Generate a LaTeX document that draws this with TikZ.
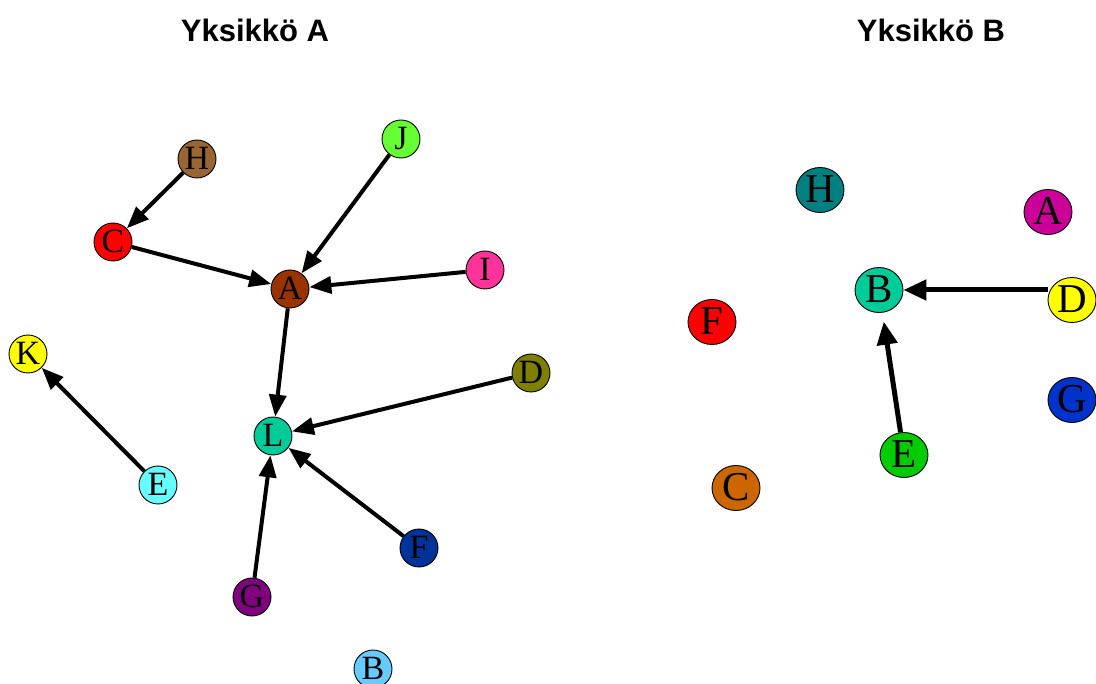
\documentclass[tikz,border=0pt]{standalone}
\usepackage{fontspec}
\setmainfont{Liberation Serif}
\newfontfamily\titlefont{Liberation Sans}
\usetikzlibrary{arrows.meta,shapes.geometric}

% vertex colours
\definecolor{aH}{HTML}{996633}
\definecolor{aC}{HTML}{FF0000}
\definecolor{aA}{HTML}{993300}
\definecolor{aJ}{HTML}{66FF33}
\definecolor{aI}{HTML}{FF3399}
\definecolor{aK}{HTML}{FFFF00}
\definecolor{aD}{HTML}{808000}
\definecolor{aL}{HTML}{00CC99}
\definecolor{aE}{HTML}{66FFFF}
\definecolor{aF}{HTML}{003399}
\definecolor{aG}{HTML}{800080}
\definecolor{aB}{HTML}{66CCFF}
\definecolor{bH}{HTML}{008080}
\definecolor{bA}{HTML}{CC0099}
\definecolor{bB}{HTML}{00CC99}
\definecolor{bD}{HTML}{FFFF00}
\definecolor{bF}{HTML}{FF0000}
\definecolor{bG}{HTML}{0033CC}
\definecolor{bE}{HTML}{00CC00}
\definecolor{bC}{HTML}{CC6600}

\tikzset{
  vtx/.style={circle, draw=black, line width=0.9pt, fill=#1, inner sep=0pt,
    minimum size=38pt, font=\fontsize{34}{34}\selectfont,
    text height=21.5pt, text depth=0pt},
  bvtx/.style={ellipse, draw=black, line width=0.9pt, fill=#1, inner sep=0pt,
    minimum width=48pt, minimum height=45pt, font=\fontsize{41}{41}\selectfont,
    text height=26pt, text depth=0pt},
  link/.style={line width=4pt, -{Triangle[length=22pt,width=17pt]}},
  blink/.style={line width=5pt, -{Triangle[length=23pt,width=20pt]}},
  heading/.style={font=\titlefont\bfseries\fontsize{31}{31}\selectfont}
}

\begin{document}
\begin{tikzpicture}[x=1pt,y=-1pt]
\useasboundingbox (0,0) rectangle (1096,684);

% titles
\node[heading] (tA) at (255,30) {Yksikkö A};
\node[heading] (tB) at (931,30) {Yksikkö B};

% unit A
\node[vtx=aH] (AH) at (197,159) {H};
\node[vtx=aC] (AC) at (113,242) {C};
\node[vtx=aA] (AA) at (290,289) {A};
\node[vtx=aJ] (AJ) at (401,139) {J};
\node[vtx=aI] (AI) at (485,270) {I};
\node[vtx=aK] (AK) at (28,354) {K};
\node[vtx=aD] (AD) at (531,373) {D};
\node[vtx=aL] (AL) at (273,436) {L};
\node[vtx=aE] (AE) at (158,485) {E};
\node[vtx=aF] (AF) at (419,548) {F};
\node[vtx=aG] (AG) at (252,597) {G};
\node[vtx=aB] (AB) at (373,669) {B};

\draw[link] (AH) -- (AC);
\draw[link] (AC) -- (AA);
\draw[link] (AJ) -- (AA);
\draw[link] (AI) -- (AA);
\draw[link] (AA) -- (AL);
\draw[link] (AD) -- (AL);
\draw[link] (AF) -- (AL);
\draw[link] (AG) -- (AL);
\draw[link] (AE) -- (AK);

% unit B
\node[bvtx=bH] (BH) at (820,190) {H};
\node[bvtx=bA] (BA) at (1048,212) {A};
\node[bvtx=bB] (BB) at (879,290) {B};
\node[bvtx=bD] (BD) at (1072,300) {D};
\node[bvtx=bF] (BF) at (712,322) {F};
\node[bvtx=bG] (BG) at (1072,400) {G};
\node[bvtx=bE] (BE) at (904,455) {E};
\node[bvtx=bC] (BC) at (736,488) {C};

\draw[blink] (BD.west |- BB.east) -- (BB.east);
\draw[blink, shorten >=9pt] (BE) -- (BB);
\end{tikzpicture}
\end{document}
